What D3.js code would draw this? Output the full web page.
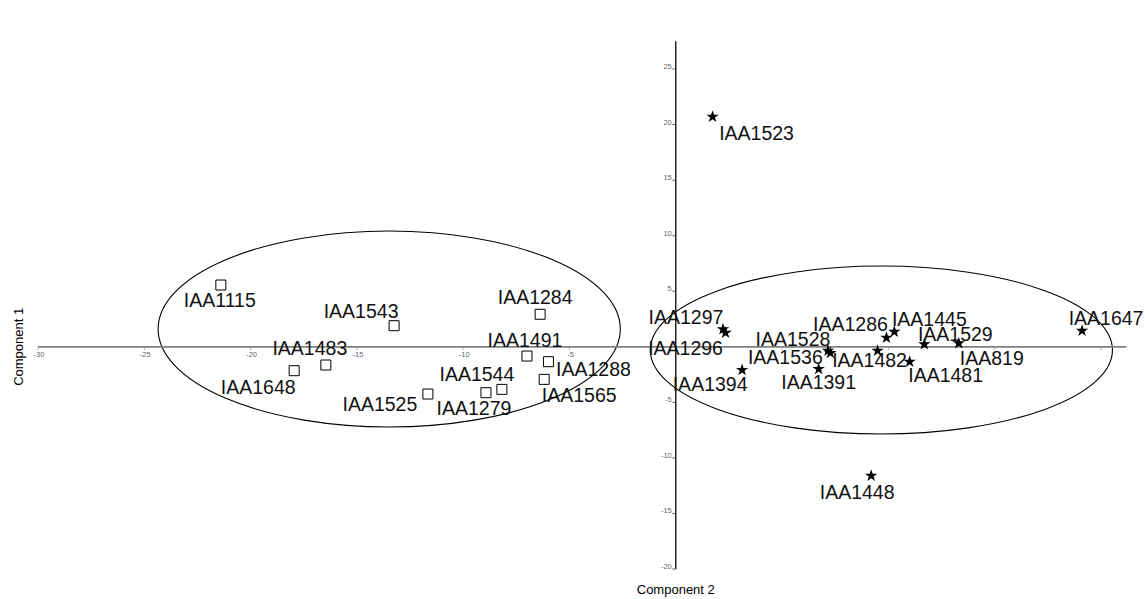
<!DOCTYPE html>
<html>
<head>
<meta charset="utf-8">
<script src="https://cdn.jsdelivr.net/npm/d3@7"></script>
<style>
  html, body { margin: 0; padding: 0; background: #fff; }
  svg { display: block; }
</style>
</head>
<body>
<svg id="chart" width="1145" height="599"></svg>
<script>
// ---------- data ----------
const squareNames = ["IAA1115","IAA1543","IAA1483","IAA1648","IAA1525","IAA1284","IAA1491","IAA1288","IAA1565","IAA1544","IAA1279"];
const squareX     = [-21.40, -13.25, -16.46, -17.95, -11.66, -6.38, -7.00, -5.99, -6.19, -8.18, -8.93];
const squareY     = [  5.56,   1.90,  -1.64,  -2.15,  -4.25,  2.93, -0.83, -1.34, -2.93, -3.83, -4.13];

const starNames = ["IAA1523","IAA1448","IAA1297","IAA1296","IAA1394","IAA1528","IAA1536","IAA1391","IAA1482","IAA1481","IAA1286","IAA1445","IAA1529","IAA819","IAA1647"];
const starX     = [ 1.73,   9.19, 2.22, 2.34,  3.12,  7.16,  7.27,  6.72,  9.49, 11.00, 9.91, 10.28, 11.69, 13.31, 19.11];
const starY     = [20.71, -11.60, 1.58, 1.27, -2.09, -0.35, -0.56, -2.00, -0.35, -1.34, 0.82,  1.36,  0.23,  0.32,  1.45];

const ellipseCX = [-13.48, 9.67];
const ellipseCY = [  1.60, -0.29];
const ellipseRX = [ 10.87, 10.87];
const ellipseRY = [  8.82, 7.56];

const xTicks = [-30, -25, -20, -15, -10, -5, 5, 10, 15, 20];
const xTickLabels = ["-30", "-25", "-20", "-15", "-10", "-5", "", "", "", ""];
const yTicks = [-20, -15, -10, -5, 5, 10, 15, 20, 25];
const yTickLabels = ["-20", "-15", "-10", "-5", "5", "10", "15", "20", "25"];

const xTitle = "Component 2";
const yTitle = "Component 1";

// label placement (pixel offsets from the marker, layout only)
const labelOffset = {
  IAA1115: [-1, 15], IAA1543: [-33, -15], IAA1483: [-16, -17], IAA1648: [-36, 16],
  IAA1525: [-48, 10], IAA1284: [-5, -17], IAA1491: [-2, -16], IAA1288: [45, 7],
  IAA1565: [35, 16], IAA1544: [-25, -15], IAA1279: [-12, 15],
  IAA1523: [44, 16], IAA1448: [-14, 16], IAA1297: [-37, -12], IAA1296: [-40, 15],
  IAA1394: [-32, 14], IAA1528: [-35, -12], IAA1536: [-45, 4], IAA1391: [0, 13],
  IAA1482: [-8, 9], IAA1481: [36, 13], IAA1286: [-36, -14], IAA1445: [35, -13],
  IAA1529: [31, -10], IAA819: [33, 15], IAA1647: [24, -13]
};

// ---------- layout ----------
const svg = d3.select("#chart");
const x = d3.scaleLinear().domain([-30, 21.2]).range([38, 1126.5]);
const y = d3.scaleLinear().domain([-20, 27.5]).range([569, 41.3]);
const font = "Arial, 'Liberation Sans', sans-serif";

// ellipses
svg.append("g").selectAll("ellipse")
  .data(d3.range(ellipseCX.length))
  .join("ellipse")
  .attr("cx", i => x(ellipseCX[i]))
  .attr("cy", i => y(ellipseCY[i]))
  .attr("rx", i => x(ellipseRX[i]) - x(0))
  .attr("ry", i => y(0) - y(ellipseRY[i]))
  .attr("fill", "none")
  .attr("stroke", "#000")
  .attr("stroke-width", 1.1);

// x axis (horizontal line through y = 0)
const xAxisG = svg.append("g").attr("transform", `translate(0,${y(0)})`);
xAxisG.append("line")
  .attr("x1", x(-30)).attr("x2", x(21.2))
  .attr("stroke", "#808080").attr("stroke-width", 1.7);
xAxisG.selectAll("line.tick")
  .data(xTicks).join("line").attr("class", "tick")
  .attr("x1", d => x(d)).attr("x2", d => x(d))
  .attr("y1", 0).attr("y2", 3.5)
  .attr("stroke", "#999").attr("stroke-width", 0.8);
xAxisG.selectAll("text")
  .data(xTicks).join("text")
  .attr("x", d => x(d) + 1)
  .attr("y", 10)
  .attr("text-anchor", "middle")
  .attr("font-family", font)
  .attr("font-size", 7.5)
  .attr("fill", "#666")
  .text((d, i) => xTickLabels[i]);

// y axis (vertical line through x = 0)
const yAxisG = svg.append("g").attr("transform", `translate(${x(0)},0)`);
yAxisG.append("line")
  .attr("y1", y(-20)).attr("y2", y(27.5))
  .attr("stroke", "#000").attr("stroke-width", 1.3);
yAxisG.selectAll("line.tick")
  .data(yTicks).join("line").attr("class", "tick")
  .attr("x1", -3.5).attr("x2", 0)
  .attr("y1", d => y(d)).attr("y2", d => y(d))
  .attr("stroke", "#333").attr("stroke-width", 0.8);
yAxisG.selectAll("text")
  .data(yTicks).join("text")
  .attr("x", -4)
  .attr("y", d => y(d))
  .attr("text-anchor", "end")
  .attr("font-family", font)
  .attr("font-size", 7.5)
  .attr("fill", "#666")
  .text((d, i) => yTickLabels[i]);

// axis titles
svg.append("text")
  .attr("x", x(0)).attr("y", 594)
  .attr("text-anchor", "middle")
  .attr("font-family", font).attr("font-size", 13)
  .attr("fill", "#000")
  .text(xTitle);
svg.append("text")
  .attr("transform", `translate(23,${y(0)}) rotate(-90)`)
  .attr("text-anchor", "middle")
  .attr("font-family", font).attr("font-size", 13)
  .attr("fill", "#000")
  .text(yTitle);

// markers
const squareData = squareNames.map((n, i) => ({ name: n, x: squareX[i], y: squareY[i] }));
const starData = starNames.map((n, i) => ({ name: n, x: starX[i], y: starY[i] }));

svg.append("g").selectAll("path")
  .data(squareData).join("path")
  .attr("transform", d => `translate(${x(d.x)},${y(d.y)})`)
  .attr("d", d3.symbol().type(d3.symbolSquare).size(100))
  .attr("fill", "#fff").attr("stroke", "#000").attr("stroke-width", 1);

svg.append("g").selectAll("path")
  .data(starData).join("path")
  .attr("transform", d => `translate(${x(d.x)},${y(d.y)})`)
  .attr("d", d3.symbol().type(d3.symbolStar).size(48))
  .attr("fill", "#000");

// labels
svg.append("g").selectAll("text")
  .data(squareData.concat(starData)).join("text")
  .attr("x", d => x(d.x) + labelOffset[d.name][0])
  .attr("y", d => y(d.y) + labelOffset[d.name][1])
  .attr("dy", "0.36em")
  .attr("text-anchor", "middle")
  .attr("font-family", font)
  .attr("font-size", 19.5)
  .attr("fill", "#111")
  .text(d => d.name);
</script>
</body>
</html>
